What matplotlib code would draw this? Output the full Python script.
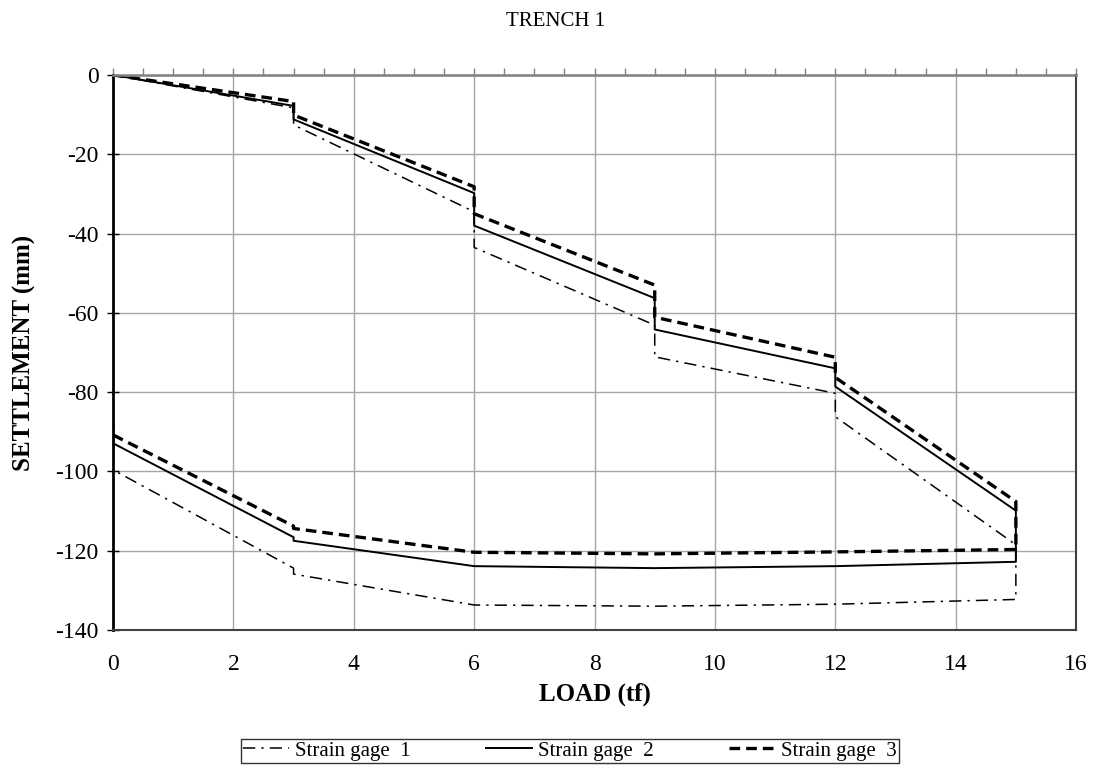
import matplotlib
matplotlib.use("Agg")
import matplotlib.pyplot as plt
from matplotlib.ticker import MultipleLocator

plt.rcParams['font.family'] = ['Liberation Serif', 'DejaVu Serif']
plt.rcParams['axes.unicode_minus'] = False

# load path: load up to 15 tf in 3 tf steps (hold at each step), then unload
load = [0, 3, 3, 6, 6, 9, 9, 12, 12, 15, 15, 12, 9, 6, 3, 3, 0]

gage1 = [0, -8.3, -12.6, -34.5, -43.5, -63.1, -71.1, -80.3, -86.2, -118.5, -132.3,
         -133.5, -134.0, -133.7, -125.9, -124.4, -99.6]
gage2 = [0, -7.8, -11.2, -29.8, -38.0, -56.3, -64.2, -74.0, -78.6, -109.9, -122.8,
         -123.9, -124.4, -123.9, -117.5, -116.6, -92.9]
gage3 = [0, -6.7, -10.1, -28.2, -35.0, -53.0, -61.1, -71.2, -76.3, -107.6, -119.7,
         -120.3, -120.8, -120.4, -114.4, -113.8, -90.8]
# gage 3 rebound at the end of unloading
load3 = load + [0]
gage3_end = gage3 + [-88.0]

labels = ['Strain gage  1', 'Strain gage  2', 'Strain gage  3']

fig = plt.figure(figsize=(10.93, 7.65), dpi=100)
ax = fig.add_axes([0.1034, 0.1765, 0.8811, 0.7255])

ax.plot(load, gage1, color='black', lw=1.1, linestyle=(0, (8, 4, 1.5, 4)), label=labels[0])
ax.plot(load, gage2, color='black', lw=1.4, linestyle='-', label=labels[1])
ax.plot(load3, gage3_end, color='black', lw=2.4, linestyle=(0, (3.2, 1.8)), label=labels[2])

ax.set_xlim(0, 16)
ax.set_ylim(-140, 0)
ax.xaxis.set_major_locator(MultipleLocator(2))
ax.xaxis.set_minor_locator(MultipleLocator(0.5))
ax.yaxis.set_major_locator(MultipleLocator(20))

ax.grid(True, which='major', color='#a6a6a6', lw=1.0)
ax.set_axisbelow(True)

ax.tick_params(axis='x', which='both', bottom=False, top=True, labelbottom=True,
               labeltop=False, direction='out', length=5, color='#808080', width=1,
               labelsize=17, pad=12)
ax.tick_params(axis='y', which='major', direction='inout', length=9, color='black',
               width=1, labelsize=17, pad=6)

ax.spines['top'].set_color('#808080')
ax.spines['top'].set_linewidth(1.8)
ax.spines['left'].set_color('black')
ax.spines['left'].set_linewidth(2.0)
ax.spines['right'].set_color('#404040')
ax.spines['right'].set_linewidth(1.5)
ax.spines['bottom'].set_color('#404040')
ax.spines['bottom'].set_linewidth(1.5)

ax.set_xlabel('LOAD (tf)', fontsize=18, fontweight='bold', labelpad=6)
ax.set_ylabel('SETTLEMENT (mm)', fontsize=18, fontweight='bold', labelpad=14)
fig.text(0.508, 0.972, 'TRENCH 1', ha='center', va='center', fontsize=15)

leg = fig.legend(loc='upper center', bbox_to_anchor=(0.5215, 0.0345), ncol=3,
                 frameon=True, fancybox=False, edgecolor='black', fontsize=15,
                 handlelength=2.2, columnspacing=3.6, handletextpad=0.3,
                 borderpad=0.12, borderaxespad=0.0)
leg.get_frame().set_linewidth(1.0)

fig.savefig('out.png', dpi=100)
